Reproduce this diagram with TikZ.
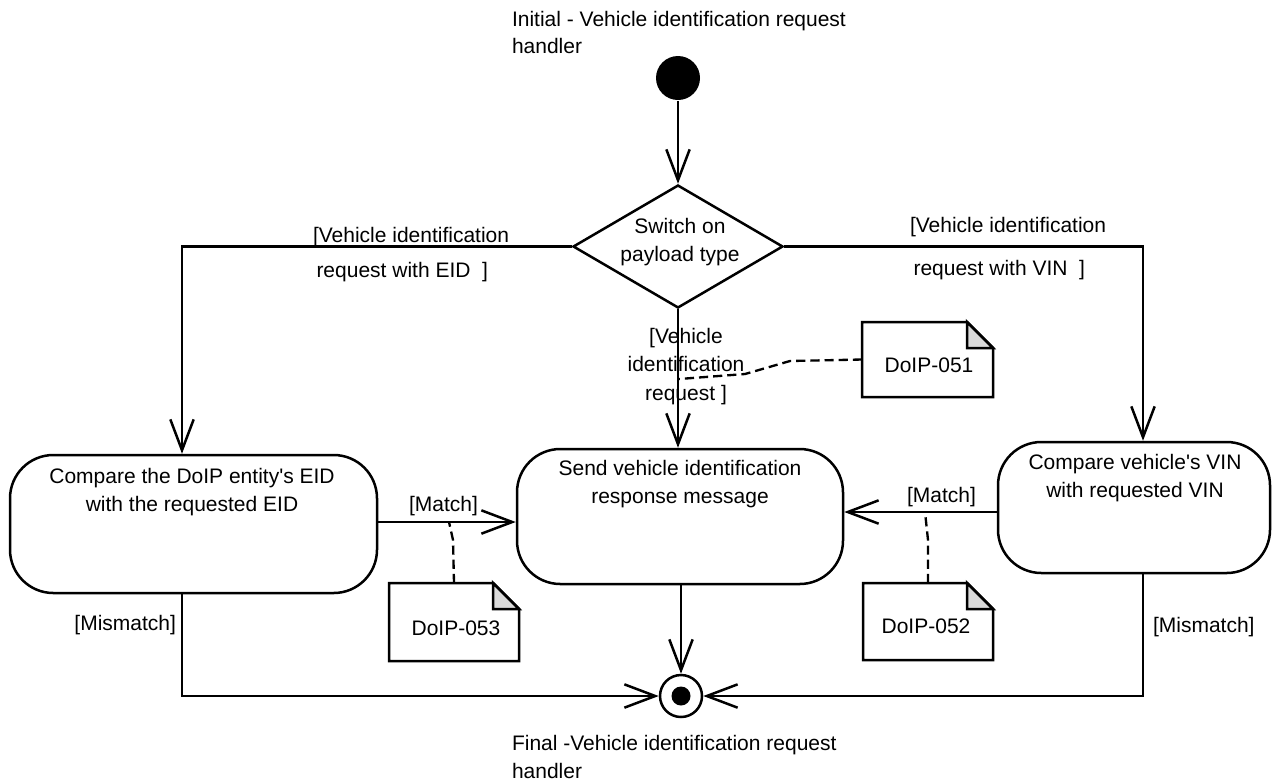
\documentclass[tikz,border=0pt]{standalone}
\usepackage{fontspec}
\setmainfont{Liberation Sans}
\usetikzlibrary{arrows.meta,shapes.geometric,calc}
\definecolor{eargray}{RGB}{218,218,218}
\newcommand\mytab[2]{\begin{tabular}[t]{@{}#1@{}}#2\end{tabular}}
\newcommand\dognote[1]{%
  \draw[notel] (#1.north west) -- ([xshift=-15.6pt]#1.north east) -- ([yshift=-15.6pt]#1.north east) -- (#1.south east) -- (#1.south west) -- cycle;
  \draw[notel,fill=eargray] ([xshift=-15.6pt]#1.north east) -- ([xshift=-15.6pt,yshift=-15.6pt]#1.north east) -- ([yshift=-15.6pt]#1.north east) -- cycle;}
\begin{document}
\begin{tikzpicture}[x=0.6pt,y=-0.6pt,line width=1.5pt,
  arr/.style={-{Straight Barb[length=18.5pt,width=14pt]}},
  txt/.style={inner sep=0pt,outer sep=0pt,font=\fontsize{12.6pt}{17.2pt}\selectfont},
  act/.style={draw,rounded corners=26pt,inner sep=0pt},
  notebox/.style={draw=none,inner sep=0pt,outer sep=0pt},
  notel/.style={line width=1.5pt,line join=miter},
  dashl/.style={dash pattern=on 5.5pt off 3pt,line width=1.4pt}]
\useasboundingbox (0,0) rectangle (1274,780);

% initial
\node[circle,fill=black,minimum size=44*0.6pt,inner sep=0pt] (init) at (678,78) {};
\node[txt,anchor=base west] (inittxt) at (512,26) {\fontsize{12.6pt}{16.2pt}\selectfont\mytab{l}{Initial - Vehicle identification request\\handler}};

% decision
\node[draw,diamond,minimum width=210*0.6pt,minimum height=123*0.6pt,inner sep=0pt] (dia) at (678,246.5) {};
\node[txt,anchor=base] (diatxt) at (680,233) {\mytab{c}{Switch on\\payload type}};

% activities
\node[act,minimum width=367*0.6pt,minimum height=138*0.6pt] (eid) at (193.5,524) {};
\node[txt,anchor=base] (eidtxt) at (192,483) {\mytab{c}{Compare the DoIP entity\textquotesingle s EID\\with the requested EID}};
\node[act,minimum width=326*0.6pt,minimum height=135*0.6pt] (send) at (680,516.5) {};
\node[txt,anchor=base] (sendtxt) at (680,475) {\mytab{c}{Send vehicle identification\\response message}};
\node[act,minimum width=272*0.6pt,minimum height=131*0.6pt] (vin) at (1134,507.5) {};
\node[txt,anchor=base] (vintxt) at (1135,469) {\mytab{c}{Compare vehicle\textquotesingle s VIN\\with requested VIN}};

% final
\node[circle,draw,fill=white,minimum size=42*0.6pt,inner sep=0pt] (fin) at (681,696) {};
\node[circle,fill=black,minimum size=19*0.6pt,inner sep=0pt] (findot) at (fin.center) {};
\node[txt,anchor=base west] (fintxt) at (512,750) {\fontsize{12.6pt}{16.8pt}\selectfont\mytab{l}{Final -Vehicle identification request\\handler}};

% notes
\node[notebox,minimum width=131*0.6pt,minimum height=75*0.6pt] (n51) at (927.5,359.5) {};
\node[txt,anchor=base] (n51t) at (929,372) {DoIP-051};
\dognote{n51}
\node[notebox,minimum width=130*0.6pt,minimum height=78*0.6pt] (n53) at (454,622) {};
\node[txt,anchor=base] (n53t) at (456,635) {DoIP-053};
\dognote{n53}
\node[notebox,minimum width=130*0.6pt,minimum height=77*0.6pt] (n52) at (928,621.5) {};
\node[txt,anchor=base] (n52t) at (926,633) {DoIP-052};
\dognote{n52}

% helper coordinates
\coordinate (lx) at (182,0);
\coordinate (rx) at (1143,0);
\coordinate (ml) at (0,522);
\coordinate (mr) at (0,512);
\coordinate (a51) at (679,379);
\coordinate (a53) at (449,522);
\coordinate (a52) at (925,512);

% connectors
\draw[arr] (init) -- (dia.north);
\draw[arr] (dia.west) -| (lx |- eid.north);
\draw[arr] (dia.east) -| (rx |- vin.north);
\draw[arr] (dia.south) -- (dia.south |- send.north);
\draw[arr] (eid.east |- ml) -- (send.west |- ml);
\draw[arr] (vin.west |- mr) -- (send.east |- mr);
\draw[arr] (fin |- send.south) -- (fin.north);
\draw[arr] (lx |- eid.south) |- (fin.west);
\draw[arr] (rx |- vin.south) |- (fin.east);

% note links
\draw[dashl] (n51.west) -- (790,361) -- (745,374) -- (a51);
\draw[dashl] (n53.north) -- (453,540) -- (a53);
\draw[dashl] (n52.north) -- (928,540) -- (a52);

% guards
\node[txt,anchor=base west] (gl) at (313,242) {\mytab{l}{[Vehicle identification\\[4.2pt]\,request with EID\ \ ]}};
\node[txt,anchor=base west] (gr) at (910,232) {\mytab{l}{[Vehicle identification\\[8.6pt]\,request with VIN\ \ ]}};
\node[txt,anchor=base] (gc) at (686,343) {\mytab{c}{[Vehicle\\identification\\request ]}};
\node[txt,anchor=base west] (gml) at (409,511) {[Match]};
\node[txt,anchor=base west] (gmr) at (907,502) {[Match]};
\node[txt,anchor=base east] (gxl) at (176,630) {[Mismatch]};
\node[txt,anchor=base west] (gxr) at (1153,632) {[Mismatch]};
\end{tikzpicture}
\end{document}
